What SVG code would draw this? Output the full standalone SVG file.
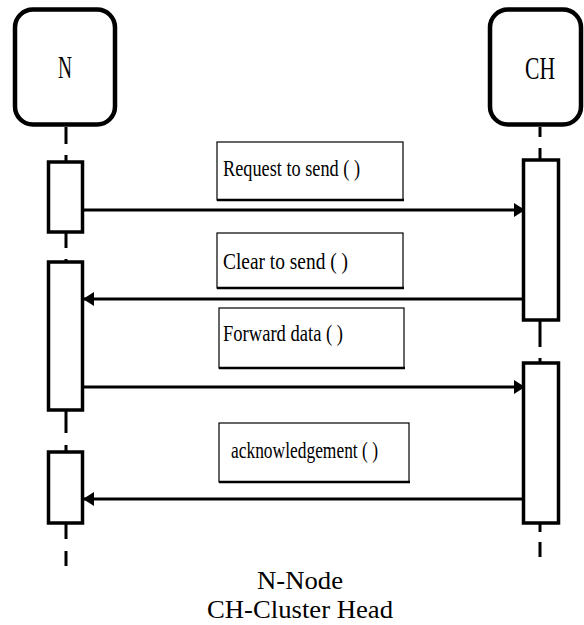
<svg xmlns="http://www.w3.org/2000/svg" width="584" height="625" viewBox="0 0 584 625">
  <style>
    .head { fill: #fff; stroke: #000; stroke-width: 4.5; }
    .act { fill: #fff; stroke: #000; stroke-width: 3.5; }
    .life { stroke: #000; stroke-width: 3; fill: none; }
    .msgbox { fill: #fff; stroke: #000; stroke-width: 1.2; }
    .shadow { stroke: #000; stroke-width: 2.5; }
    .msg { stroke: #000; stroke-width: 3; fill: none; }
    .t { font-family: "Liberation Serif", "Times New Roman", serif; fill: #000; }
    .htxt { font-size: 31px; }
    .mtxt { font-size: 23px; }
    .cap { font-size: 26px; text-anchor: middle; }
  </style>
  <defs>
    <marker id="arrow" markerUnits="userSpaceOnUse" markerWidth="12" markerHeight="14" refX="11" refY="7" orient="auto">
      <path d="M0,0 L11,7 L0,14 Z" fill="#000"/>
    </marker>
  </defs>

  <!-- lifelines (dashed segments between activations) -->
  <g id="lifelines">
    <path class="life" d="M66,127 V144 M66,155 V162 M66,233 V248 M66,259 V262 M66,410 V433 M66,445 V452 M66,523 V539 M66,551 V566"/>
    <path class="life" d="M540,127 V137 M540,148 V160 M540,320 V347 M540,358 V363 M540,523 V532 M540,542 V557"/>
  </g>

  <!-- participant N -->
  <g id="node-n">
    <rect class="head" x="15" y="9.5" width="100" height="115" rx="18" ry="18"/>
    <text class="t htxt" x="58" y="78" textLength="14" lengthAdjust="spacingAndGlyphs">N</text>
    <rect class="act" x="48.5" y="162" width="34" height="70"/>
    <rect class="act" x="48.5" y="262" width="34" height="148"/>
    <rect class="act" x="48.5" y="452" width="34" height="71"/>
  </g>

  <!-- participant CH -->
  <g id="node-ch">
    <rect class="head" x="490" y="9.5" width="91" height="115" rx="18" ry="18"/>
    <text class="t htxt" x="525" y="79" textLength="30" lengthAdjust="spacingAndGlyphs">CH</text>
    <rect class="act" x="523.5" y="160" width="35" height="160"/>
    <rect class="act" x="523.5" y="363" width="35" height="160"/>
  </g>

  <!-- message labels -->
  <g id="label-request">
    <rect class="msgbox" x="217" y="142" width="186" height="58"/>
    <line class="shadow" x1="217" y1="200" x2="404" y2="200"/>
    <text class="t mtxt" x="223" y="176" textLength="137" lengthAdjust="spacingAndGlyphs">Request to send ( )</text>
  </g>
  <g id="label-clear">
    <rect class="msgbox" x="217" y="233" width="186" height="55"/>
    <line class="shadow" x1="217" y1="288" x2="404" y2="288"/>
    <text class="t mtxt" x="223" y="269" textLength="125" lengthAdjust="spacingAndGlyphs">Clear to send ( )</text>
  </g>
  <g id="label-forward">
    <rect class="msgbox" x="219" y="308" width="185" height="60"/>
    <line class="shadow" x1="219" y1="368" x2="405" y2="368"/>
    <text class="t mtxt" x="223" y="341" textLength="120" lengthAdjust="spacingAndGlyphs">Forward data ( )</text>
  </g>
  <g id="label-ack">
    <rect class="msgbox" x="219" y="423" width="190" height="59"/>
    <line class="shadow" x1="219" y1="482" x2="410" y2="482"/>
    <text class="t mtxt" x="231" y="458" textLength="147" lengthAdjust="spacingAndGlyphs">acknowledgement ( )</text>
  </g>

  <!-- messages -->
  <g id="connectors">
    <line class="msg" x1="83" y1="210" x2="525" y2="210" marker-end="url(#arrow)"/>
    <line class="msg" x1="523" y1="299" x2="83" y2="299" marker-end="url(#arrow)"/>
    <line class="msg" x1="83" y1="387" x2="525" y2="387" marker-end="url(#arrow)"/>
    <line class="msg" x1="523" y1="499" x2="83" y2="499" marker-end="url(#arrow)"/>
  </g>

  <!-- legend -->
  <g id="legend">
    <text class="t cap" x="300" y="589" textLength="86" lengthAdjust="spacingAndGlyphs">N-Node</text>
    <text class="t cap" x="300" y="618" textLength="186" lengthAdjust="spacingAndGlyphs">CH-Cluster Head</text>
  </g>
</svg>
